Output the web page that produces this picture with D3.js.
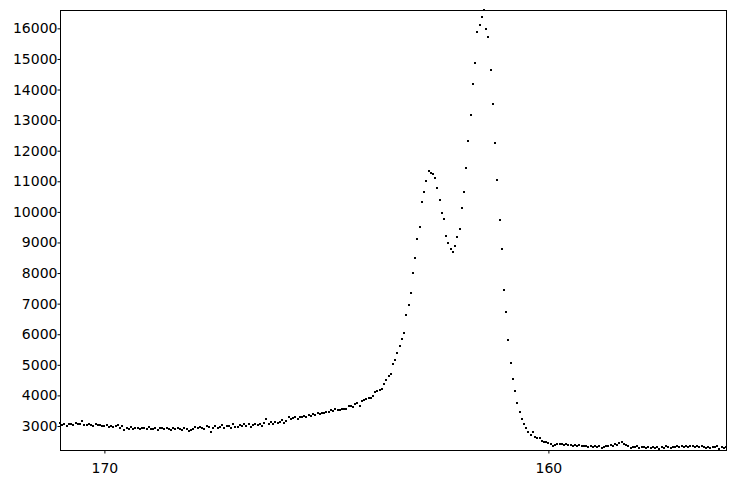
<!DOCTYPE html>
<html>
<head>
<meta charset="utf-8">
<script src="https://cdn.jsdelivr.net/npm/d3@7"></script>
<style>
  html, body { margin: 0; padding: 0; background: #fff; }
  svg { display: block; }
  .axis text { font-family: "DejaVu Sans", Verdana, sans-serif; font-size: 14px; fill: #000; }
  .axis line { stroke: #000; }
</style>
</head>
<body>
<svg id="chart" width="736" height="479"></svg>
<script>
// Chemical shift (ppm), reversed axis
const shift = [
  171.00,170.95,170.90,170.85,170.80,170.75,170.70,170.65,170.60,170.55,170.50,170.45,170.40,170.35,170.30,170.25,170.20,170.15,170.10,170.05,
  170.00,169.95,169.90,169.85,169.80,169.75,169.70,169.65,169.60,169.55,169.50,169.45,169.40,169.35,169.30,169.25,169.20,169.15,169.10,169.05,
  169.00,168.95,168.90,168.85,168.80,168.75,168.70,168.65,168.60,168.55,168.50,168.45,168.40,168.35,168.30,168.25,168.20,168.15,168.10,168.05,
  168.00,167.95,167.90,167.85,167.80,167.75,167.70,167.65,167.60,167.55,167.50,167.45,167.40,167.35,167.30,167.25,167.20,167.15,167.10,167.05,
  167.00,166.95,166.90,166.85,166.80,166.75,166.70,166.65,166.60,166.55,166.50,166.45,166.40,166.35,166.30,166.25,166.20,166.15,166.10,166.05,
  166.00,165.95,165.90,165.85,165.80,165.75,165.70,165.65,165.60,165.55,165.50,165.45,165.40,165.35,165.30,165.25,165.20,165.15,165.10,165.05,
  165.00,164.95,164.90,164.85,164.80,164.75,164.70,164.65,164.60,164.55,164.50,164.45,164.40,164.35,164.30,164.25,164.20,164.15,164.10,164.05,
  164.00,163.95,163.90,163.85,163.80,163.75,163.70,163.65,163.60,163.55,163.50,163.45,163.40,163.35,163.30,163.25,163.20,163.15,163.10,163.05,
  163.00,162.95,162.90,162.85,162.80,162.75,162.70,162.65,162.60,162.55,162.50,162.45,162.40,162.35,162.30,162.25,162.20,162.15,162.10,162.05,
  162.00,161.95,161.90,161.85,161.80,161.75,161.70,161.65,161.60,161.55,161.50,161.45,161.40,161.35,161.30,161.25,161.20,161.15,161.10,161.05,
  161.00,160.95,160.90,160.85,160.80,160.75,160.70,160.65,160.60,160.55,160.50,160.45,160.40,160.35,160.30,160.25,160.20,160.15,160.10,160.05,
  160.00,159.95,159.90,159.85,159.80,159.75,159.70,159.65,159.60,159.55,159.50,159.45,159.40,159.35,159.30,159.25,159.20,159.15,159.10,159.05,
  159.00,158.95,158.90,158.85,158.80,158.75,158.70,158.65,158.60,158.55,158.50,158.45,158.40,158.35,158.30,158.25,158.20,158.15,158.10,158.05,
  158.00,157.95,157.90,157.85,157.80,157.75,157.70,157.65,157.60,157.55,157.50,157.45,157.40,157.35,157.30,157.25,157.20,157.15,157.10,157.05,
  157.00,156.95,156.90,156.85,156.80,156.75,156.70,156.65,156.60,156.55,156.50,156.45,156.40,156.35,156.30,156.25,156.20,156.15,156.10,156.05,
  156.00
];

// Intensity
const intensity = [
  3090,3040,3060,3010,3070,3050,3030,3110,3050,3060,
  3150,3040,3020,3060,3030,3000,3050,3020,3030,2990,
  3010,3040,2970,3000,2960,2990,3020,2950,2990,2880,
  2940,2900,2960,2910,2950,2930,2890,2940,2920,2900,
  2960,2910,2890,2930,2880,2950,2920,2900,2940,2910,
  2880,2930,2900,2950,2910,2870,2920,2890,2830,2880,
  2910,2960,2920,2980,2940,2900,3010,2970,2810,2950,
  2990,2930,2970,3020,2950,3000,2990,2940,3050,2980,
  2960,3030,2990,3060,3000,3050,2970,3020,3080,3040,
  3060,3010,3100,3230,3060,3120,3080,3140,3090,3130,
  3200,3110,3170,3300,3220,3250,3290,3240,3310,3280,
  3330,3300,3360,3340,3390,3350,3410,3380,3440,3420,
  3470,3450,3510,3490,3540,3520,
  3533,3560,3546,3565,3663,3650,3631,3729,3761,3663,
  3827,3859,3892,3915,3925,3990,4121,4150,4176,4219,
  4382,4503,4634,4709,5036,5167,5395,5624,5843,6049,
  6637,6954,
  7356,8010,8500,9121,9513,10330,10657,11016,11343,11278,
  11235,11115,10788,10386,9951,9765,9219,8990,8794,8696,
  8882,9177,9438,10134,10657,11441,12324,13173,14186,14853,
  15886,16115,16376,16590,15984,15722,14644,13533,12258,11049,
  9742,8794,7454,6735,5820,5069,4546,4154,3761,3467,
  3239,3075,2944,2814,2716,2814,2650,2618,2618,2520,
  2487,2487,2454,2422,2356,2389,2422,2422,
  2400,2380,2410,2370,2390,2360,2380,2340,2370,2350,
  2330,2360,2320,2350,2310,2340,2300,2330,2290,2320,
  2350,2330,2380,2360,2410,2390,2440,2480,2420,2380,
  2330,2280,2310,2300,2330,2290,2320,2300,2270,2310,
  2290,2320,2280,2300,2260,2310,2290,2330,2300,2280,
  2320,2300,2340,2310,2330,2300,2350,2320,2360,2330,
  2310,2340,2300,2330,2320,2290,2310,2280,2320,2300,
  2330,2260,2300,2280,2310
];

const xTicks = [170, 160];
const yTicks = [3000,4000,5000,6000,7000,8000,9000,10000,11000,12000,13000,14000,15000,16000];
const xDomain = [171, 156];
const yDomain = [2215, 16600];

const svg = d3.select("#chart");
const margin = {left: 60, top: 10, right: 10, bottom: 29};
const W = 736, H = 479;
const x = d3.scaleLinear().domain(xDomain).range([margin.left, W - margin.right]);
const y = d3.scaleLinear().domain(yDomain).range([H - margin.bottom, margin.top]);

const n = Math.min(shift.length, intensity.length);
const data = d3.range(n).map(i => ({x: shift[i], y: intensity[i]}));

// points
svg.append("g").selectAll("rect").data(data).join("rect")
  .attr("x", d => Math.round(x(d.x)) - 1)
  .attr("y", d => Math.round(y(d.y)) - 1)
  .attr("width", 2).attr("height", 2)
  .attr("fill", "#000");

// frame
svg.append("rect")
  .attr("x", margin.left + 0.5).attr("y", margin.top + 0.5)
  .attr("width", W - margin.right - margin.left)
  .attr("height", H - margin.bottom - margin.top)
  .attr("fill", "none").attr("stroke", "#000").attr("stroke-width", 1);

// axes
const yAxis = svg.append("g").attr("class", "axis")
  .attr("transform", `translate(${margin.left + 0.5},0)`)
  .call(d3.axisLeft(y).tickValues(yTicks).tickSize(3).tickPadding(0).tickFormat(d3.format("d")));
yAxis.select(".domain").remove();

const xAxis = svg.append("g").attr("class", "axis")
  .attr("transform", `translate(0,${H - margin.bottom + 0.5})`)
  .call(d3.axisBottom(x).tickValues(xTicks).tickSize(3).tickPadding(10).tickFormat(d3.format("d")));
xAxis.select(".domain").remove();
</script>
</body>
</html>
